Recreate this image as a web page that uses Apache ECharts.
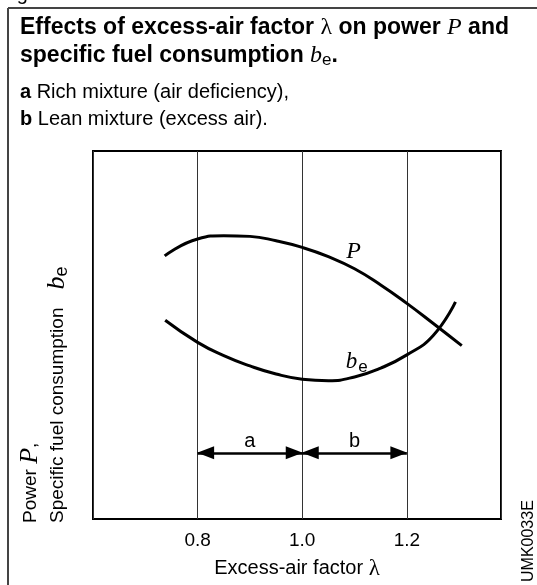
<!DOCTYPE html>
<html>
<head>
    <meta charset="utf-8">
    <title>Excess-air factor</title>
    <script src="https://cdn.jsdelivr.net/npm/echarts@6/dist/echarts.min.js"></script>
    <style>
        html, body { margin: 0; padding: 0; background: #fff; }
        #chart { width: 537px; height: 585px; }
    </style>
</head>
<body>
    <div id="chart"></div>
    <script>
        // values (y is a relative scale 0..100)
        var tickLabels = ['0.8', '1.0', '1.2'];
        var lambdaP = [0.737, 0.80, 0.85, 0.90, 0.95, 1.00, 1.05, 1.10, 1.15, 1.20, 1.25, 1.305];
        var powerP = [71.5, 76.1, 77.0, 76.8, 75.6, 73.8, 71.3, 68.0, 63.6, 58.6, 53.2, 47.1];
        var lambdaB = [0.738, 0.80, 0.85, 0.90, 0.95, 1.00, 1.05, 1.10, 1.15, 1.20, 1.25, 1.293];
        var fuelB = [54.0, 48.0, 44.4, 41.6, 39.4, 38.0, 37.6, 38.6, 41.0, 44.6, 49.8, 59.0];
        var ranges = [['a', 0.8, 1.0], ['b', 1.0, 1.2]];
        var rangeY = 18;

        var sans = 'Liberation Sans, Arial, sans-serif';
        var serif = 'Liberation Serif, Times New Roman, serif';

        function pairs(xs, ys) {
            return xs.map(function (x, i) { return [x, ys[i]]; });
        }

        var chart = echarts.init(document.getElementById('chart'));
        chart.setOption({
            animation: false,
            grid: {
                left: 93, top: 151, right: 36, bottom: 61,
                show: true, borderColor: '#000', borderWidth: 2, backgroundColor: 'transparent'
            },
            xAxis: {
                type: 'value', min: 0.6, max: 1.38, interval: 0.2,
                axisLine: { show: false },
                axisTick: { show: false },
                splitLine: { show: true, lineStyle: { color: '#333', width: 1 } },
                axisLabel: {
                    color: '#000', fontFamily: sans, fontSize: 19, margin: 12,
                    formatter: function (v) {
                        var s = v.toFixed(1);
                        return tickLabels.indexOf(s) >= 0 ? s : '';
                    }
                },
                name: 'Excess-air factor {l|λ}',
                nameLocation: 'middle', nameGap: 38,
                nameTextStyle: {
                    color: '#000', fontFamily: sans, fontSize: 20,
                    rich: { l: { fontFamily: serif, fontSize: 23, color: '#000' } }
                }
            },
            yAxis: {
                type: 'value', min: 0, max: 100,
                axisLine: { show: false },
                axisTick: { show: false },
                axisLabel: { show: false },
                splitLine: { show: false }
            },
            series: [{
                type: 'line', name: 'P', data: pairs(lambdaP, powerP),
                smooth: 0.5, showSymbol: false,
                lineStyle: { color: '#000', width: 3 },
                markPoint: {
                    symbol: 'circle', symbolSize: 0,
                    label: {
                        show: true, position: 'inside', formatter: 'P',
                        fontFamily: serif, fontStyle: 'italic', fontSize: 24, color: '#000'
                    },
                    data: [{ coord: [1.098, 72.7] }]
                },
                markLine: {
                    silent: true,
                    symbol: ['triangle', 'triangle'],
                    symbolSize: [13, 17],
                    symbolOffset: [[0, 8], [0, 8]],
                    lineStyle: { color: '#000', width: 2.5, type: 'solid' },
                    label: {
                        show: true, position: 'middle', formatter: '{b}',
                        fontFamily: sans, fontSize: 20, color: '#000', distance: 1
                    },
                    data: ranges.map(function (r) {
                        return [{ name: r[0], coord: [r[1], rangeY] }, { coord: [r[2], rangeY] }];
                    })
                }
            }, {
                type: 'line', name: 'be', data: pairs(lambdaB, fuelB),
                smooth: 0.5, showSymbol: false,
                lineStyle: { color: '#000', width: 3 },
                markPoint: {
                    symbol: 'circle', symbolSize: 0,
                    label: {
                        show: true, position: 'inside', formatter: '{b|b}{e|e}',
                        rich: {
                            b: { fontFamily: serif, fontStyle: 'italic', fontSize: 23, color: '#000' },
                            e: { fontFamily: sans, fontSize: 17, color: '#000', padding: [10, 0, 0, 1] }
                        }
                    },
                    data: [{ coord: [1.104, 42.6] }]
                }
            }],
            graphic: [
                { type: 'line', shape: { x1: 8, y1: 8, x2: 537, y2: 8 }, style: { stroke: '#444', lineWidth: 2 } },
                { type: 'line', shape: { x1: 8, y1: 8, x2: 8, y2: 585 }, style: { stroke: '#444', lineWidth: 2 } },
                {
                    type: 'text', left: 0, top: -16,
                    style: { text: 'Fig. 1', font: '20px ' + sans, fill: '#000' }
                },
                {
                    type: 'text', left: 20, top: 16,
                    style: {
                        text: '{t|Effects of excess-air factor }{l|λ}{t| on power }{p|P}{t| and}\n{t|specific fuel consumption }{p|b}{s|e}{t|.}',
                        rich: {
                            t: { font: 'bold 23px ' + sans, fill: '#000', lineHeight: 28 },
                            l: { font: '24px ' + serif, fill: '#000', lineHeight: 28 },
                            p: { font: 'italic 24px ' + serif, fill: '#000', lineHeight: 28 },
                            s: { font: '17px ' + sans, fill: '#000', lineHeight: 28, padding: [9, 0, 0, 0] }
                        }
                    }
                },
                {
                    type: 'text', left: 20, top: 79,
                    style: {
                        text: '{b|a} Rich mixture (air deficiency),\n{b|b} Lean mixture (excess air).',
                        font: '20px ' + sans, fill: '#000', lineHeight: 27,
                        rich: { b: { font: 'bold 20px ' + sans, fill: '#000', lineHeight: 27 } }
                    }
                },
                {
                    type: 'text', x: 17, y: 523, rotation: Math.PI / 2,
                    style: {
                        text: '{t|Power }{p|P}{t|,}\n{t|Specific fuel consumption}{g| }{p|b}{s|e}',
                        align: 'left', verticalAlign: 'top',
                        rich: {
                            t: { font: '19px ' + sans, fill: '#000', lineHeight: 27 },
                            g: { font: '19px ' + sans, width: 18, lineHeight: 27 },
                            p: { font: 'italic 26px ' + serif, fill: '#000', lineHeight: 27 },
                            s: { font: '18px ' + sans, fill: '#000', lineHeight: 27, padding: [9, 0, 0, 0] }
                        }
                    }
                },
                {
                    type: 'text', x: 521, y: 582, rotation: Math.PI / 2,
                    style: { text: 'UMK0033E', font: '16px ' + sans, fill: '#000', align: 'left', verticalAlign: 'top' }
                }
            ]
        });
    </script>
</body>
</html>
